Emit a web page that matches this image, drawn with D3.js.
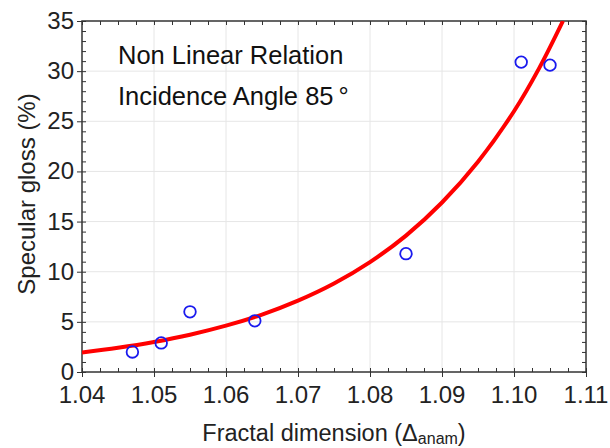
<!DOCTYPE html>
<html>
<head>
<meta charset="utf-8">
<script src="https://cdn.jsdelivr.net/npm/d3@7"></script>
<style>
body { margin: 0; background: #fff; }
svg { display: block; font-family: "Liberation Sans", Arial, sans-serif; }
</style>
</head>
<body>
<div id="chart"></div>
<script>
// measured samples
var pointX = [1.047, 1.051, 1.055, 1.064, 1.085, 1.101, 1.105];
var pointY = [2.0, 2.9, 6.0, 5.1, 11.8, 30.9, 30.6];

// fitted curve
var fitX = [1.040, 1.045, 1.050, 1.055, 1.060, 1.065, 1.070, 1.075, 1.080, 1.085, 1.090, 1.095, 1.100, 1.1035, 1.1068];
var fitY = [1.95, 2.42, 3.00, 3.72, 4.62, 5.73, 7.12, 8.83, 10.96, 13.6, 16.9, 20.97, 26.0, 30.3, 35.0];

var xTicks = [1.04, 1.05, 1.06, 1.07, 1.08, 1.09, 1.10, 1.11];
var yTicks = [0, 5, 10, 15, 20, 25, 30, 35];

var W = 610, H = 448;
var margin = {left: 82, top: 21, right: 24, bottom: 76};
var w = W - margin.left - margin.right;
var h = H - margin.top - margin.bottom;

var svg = d3.select("#chart").append("svg")
	.attr("width", W)
	.attr("height", H);

var x = d3.scaleLinear().domain([1.04, 1.11]).range([0, w]);
var y = d3.scaleLinear().domain([0, 35]).range([h, 0]);

var chart = svg.append("g")
	.attr("transform", "translate(" + margin.left + "," + margin.top + ")");

chart.append("clipPath").attr("id", "plotClip")
	.append("rect").attr("width", w).attr("height", h);

// grid
chart.append("g").selectAll("line").data(xTicks.slice(1, -1)).enter()
	.append("line")
	.attr("x1", function(d) { return x(d); })
	.attr("x2", function(d) { return x(d); })
	.attr("y1", 0).attr("y2", h)
	.attr("stroke", "#e6e6e6").attr("stroke-width", 1);
chart.append("g").selectAll("line").data(yTicks.slice(1, -1)).enter()
	.append("line")
	.attr("y1", function(d) { return y(d); })
	.attr("y2", function(d) { return y(d); })
	.attr("x1", 0).attr("x2", w)
	.attr("stroke", "#e6e6e6").attr("stroke-width", 1);

// minor ticks, inward on all four sides
var xMinor = d3.range(0, 29).map(function(i) { return 1.04 + i * 0.0025; });
var yMinor = d3.range(0, 36);

var axColor = "#333";
var axes = [
	{ax: d3.axisBottom(x), tr: "translate(0," + h + ")", minor: xMinor},
	{ax: d3.axisTop(x), tr: "translate(0,0)", minor: xMinor},
	{ax: d3.axisLeft(y), tr: "translate(0,0)", minor: yMinor},
	{ax: d3.axisRight(y), tr: "translate(" + w + ",0)", minor: yMinor}
];
axes.forEach(function(a) {
	var gm = chart.append("g").attr("transform", a.tr)
		.call(a.ax.tickValues(a.minor).tickSizeInner(-4).tickSizeOuter(0).tickFormat(""));
	gm.select(".domain").remove();
	gm.selectAll("line").attr("stroke", axColor).attr("stroke-width", 1);
});
// major ticks outward on left and bottom
[{ax: d3.axisBottom(x), tr: "translate(0," + h + ")", major: xTicks},
 {ax: d3.axisLeft(y), tr: "translate(0,0)", major: yTicks}].forEach(function(a) {
	var g = chart.append("g").attr("transform", a.tr)
		.call(a.ax.tickValues(a.major).tickSizeInner(5).tickSizeOuter(0).tickFormat(""));
	g.select(".domain").remove();
	g.selectAll("line").attr("stroke", axColor).attr("stroke-width", 1);
});

// frame
chart.append("rect")
	.attr("width", w).attr("height", h)
	.attr("fill", "none")
	.attr("stroke", axColor)
	.attr("stroke-width", 1.5);

// tick labels
chart.append("g").selectAll("text").data(xTicks).enter()
	.append("text")
	.attr("x", function(d) { return x(d); })
	.attr("y", h + 31)
	.attr("text-anchor", "middle")
	.attr("font-size", "24px")
	.attr("fill", "#222")
	.text(function(d) { return d3.format(".2f")(d); });
chart.append("g").selectAll("text").data(yTicks).enter()
	.append("text")
	.attr("x", -8)
	.attr("y", function(d) { return y(d) + 8; })
	.attr("text-anchor", "end")
	.attr("font-size", "24px")
	.attr("fill", "#222")
	.text(function(d) { return d; });

// curve
var fit = fitX.map(function(v, i) { return [v, fitY[i]]; });
var line = d3.line()
	.x(function(d) { return x(d[0]); })
	.y(function(d) { return y(d[1]); })
	.curve(d3.curveCatmullRom);
chart.append("path")
	.datum(fit)
	.attr("clip-path", "url(#plotClip)")
	.attr("d", line)
	.attr("fill", "none")
	.attr("stroke", "#ff0000")
	.attr("stroke-width", 4);

// points
chart.append("g").selectAll("circle").data(pointX).enter()
	.append("circle")
	.attr("cx", function(d) { return x(d); })
	.attr("cy", function(d, i) { return y(pointY[i]); })
	.attr("r", 5.8)
	.attr("fill", "none")
	.attr("stroke", "#1a1aee")
	.attr("stroke-width", 1.8);

// annotations
svg.append("text").attr("x", 118).attr("y", 64)
	.attr("font-size", "25.5px").attr("fill", "#111")
	.text("Non Linear Relation");
svg.append("text").attr("x", 118).attr("y", 105)
	.attr("font-size", "25.5px").attr("fill", "#111")
	.text("Incidence Angle 85\u2009\u00b0");

// axis titles
var xt = svg.append("text")
	.attr("x", margin.left + w / 2)
	.attr("y", 441)
	.attr("text-anchor", "middle")
	.attr("font-size", "23.5px")
	.attr("fill", "#222");
xt.append("tspan").text("Fractal dimension (\u0394");
xt.append("tspan").attr("font-size", "16px").attr("dy", 3).text("anam");
xt.append("tspan").attr("dy", -3).text(")");

svg.append("text")
	.attr("transform", "translate(35,194) rotate(-90)")
	.attr("text-anchor", "middle")
	.attr("font-size", "24px")
	.attr("fill", "#222")
	.text("Specular gloss (%)");
</script>
</body>
</html>
